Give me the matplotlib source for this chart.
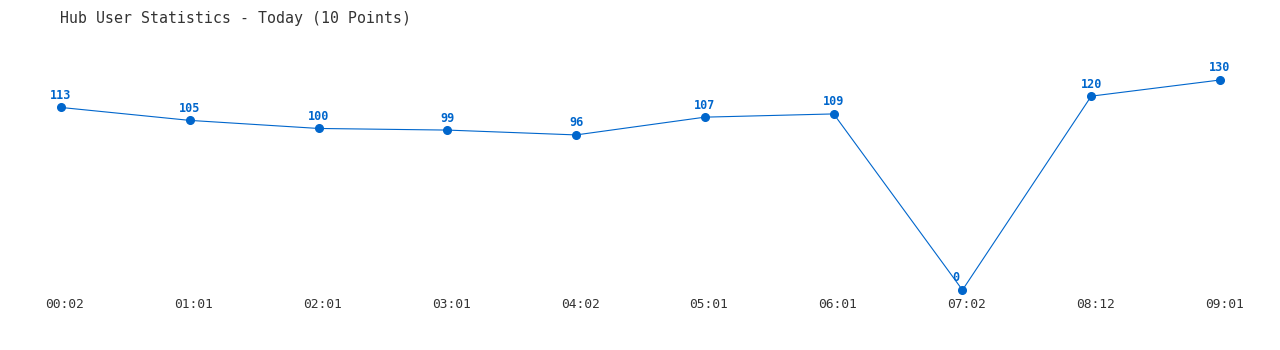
import numpy as np
import matplotlib.pyplot as plt
from matplotlib.transforms import ScaledTranslation

times = ["00:02", "01:01", "02:01", "03:01", "04:02", "05:01", "06:01", "07:02", "08:12", "09:01"]
users = [113, 105, 100, 99, 96, 107, 109, 0, 120, 130]

blue = "#0066cc"
grey = "#333333"
mono = ["DejaVu Sans Mono"]

fig = plt.figure(figsize=(12.8, 3.5), dpi=100)
# axes spans value 0 (y=290px) to 130 (y=80px)
ax = fig.add_axes([0, 60 / 350, 1, 210 / 350])

x = np.arange(len(users))
ax.plot(x, users, color=blue, linewidth=0.8, marker="o", markersize=5.5, clip_on=False)

for xi, v in zip(x, users):
    dx = -5 if v == 0 else 0
    ax.annotate(str(v), (xi, v), xytext=(dx, 4), textcoords="offset points",
                ha="center", va="bottom", color=blue, fontsize=8.5,
                fontweight="bold", family=mono)

ax.set_xlim(-61 / 128.78, (1280 - 61) / 128.78)
ax.set_ylim(0, 130)
ax.set_xticks(x)
ax.set_xticklabels(times, family=mono, fontsize=9.3, color=grey)
ax.tick_params(axis="x", length=0, pad=6)
shift = ScaledTranslation(4 / 100, 0, fig.dpi_scale_trans)
for lbl in ax.get_xticklabels():
    lbl.set_transform(lbl.get_transform() + shift)
ax.set_yticks([])
for s in ax.spines.values():
    s.set_visible(False)

fig.text(60 / 1280, 1 - 18 / 350, "Hub User Statistics - Today (10 Points)",
         ha="left", va="center", fontsize=10.7, color=grey, family=mono)

fig.savefig("out.png", dpi=100)
